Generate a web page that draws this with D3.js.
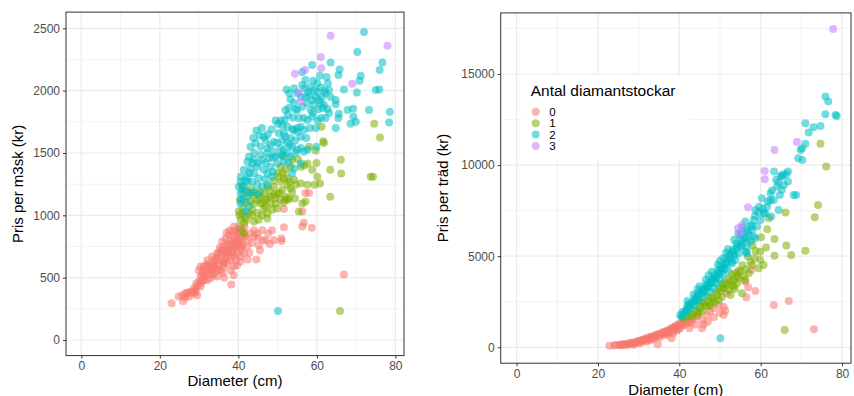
<!DOCTYPE html>
<html>
<head>
<meta charset="utf-8">
<script src="https://cdn.jsdelivr.net/npm/d3@7"></script>
<style>
  body { margin: 0; background: #fff; }
  svg { display: block; font-family: "Liberation Sans", Arial, Helvetica, sans-serif; }
</style>
</head>
<body>
<svg id="chart" width="854" height="396"></svg>
<script>
// Antal diamantstockar
const groups = ["0", "1", "2", "3"];
const groupColors = ["#F8766D", "#7CAE00", "#00BFC4", "#C77CFF"];

const xTicks = [0, 20, 40, 60, 80];
const xMinor = [10, 30, 50, 70];
const yTicksM3sk = [0, 500, 1000, 1500, 2000, 2500];
const yMinorM3sk = [250, 750, 1250, 1750, 2250];
const yTicksTrad = [0, 5000, 10000, 15000];
const yMinorTrad = [2500, 7500, 12500, 17500];

// [diameter, pris per m3sk]
const m3sk0 = [[23.0,295],[24.8,350],[25.7,360],[26.5,375],[25.9,310],[27.0,380],[27.8,390],[28.7,395],[29.5,360],[29.1,400],
  [28.2,375],[30.4,430],[29.5,430],[29.3,455],[30.4,455],[31.0,480],[31.4,510],[38.2,445],[42.4,645],[44.6,645],
  [45.5,720],[46.3,800],[47.6,855],[48.6,880],[51.0,815],[51.0,795],[51.6,905],[51.6,1050],[52.0,1125],[56.3,1030],
  [56.7,940],[56.3,910],[58.7,900],[57.1,1180],[58.0,1180],[66.9,525],[44.0,880],[44.8,855],[42.3,750],[40.6,670],
  [32.1,560],[32.9,590],[33.8,615],[34.6,640],[35.5,670],[36.3,695],[37.2,720],[38.0,750],[38.9,775],[39.7,800],
  [40.6,830],[41.4,855],[30.4,510],[31.2,590],[32.1,640],[33.3,670],[34.6,695],[35.5,720],[36.3,750],[37.2,775],
  [38.0,800],[38.9,830],[39.7,855],[35.5,560],[36.3,590],[37.2,615],[38.0,640],[38.9,670],[39.7,695],[40.6,720],
  [33.8,535],[34.6,510],[32.1,480],[32.9,495],[35.9,790],[36.7,815],[37.6,840],[38.4,870],[39.3,880],[40.1,910],
  [41.0,880],[38.9,910],[30.4,590],[29.9,560],[30.8,550],[35.0,600],[35.9,630],[34.2,575],[38.9,590],[39.7,600],
  [40.6,630],[38.0,560],[41.4,695],[42.3,800],[41.8,830],[43.1,855],[44.0,830],[46.1,880],[49.1,800],[45.2,760],
  [33.0,560],[34.0,650],[36.8,660],[37.5,700],[39.0,740],[40.0,760],[40.8,790],[36.0,540],[31.8,600],[37.8,880],
  [31.5,540],[32.5,610],[33.5,590],[34.5,660],[35.0,700],[36.0,720],[36.5,640],[37.0,700],[37.5,760],[38.5,720],
  [39.0,800],[39.5,760],[40.0,860],[40.3,800],[41.0,760],[41.6,900],[40.8,740],[37.9,680],[36.2,610],[34.8,560],
  [33.5,520],[32.6,535],[31.2,480],[30.8,520],[28.8,420],[27.5,350],[26.5,340],[29.0,380],[30.0,470],[34.0,600],
  [35.3,745],[37.0,860],[38.6,700],[39.4,640],[42.8,700],[43.5,780],[45.0,820],[47.0,800],[48.0,770],[36.4,500],[38.8,520]];

const m3sk1 = [[74.6,1735],[76.1,1625],[73.7,1310],[74.3,1310],[66.1,1445],[66.2,1335],[63.4,1365],[63.4,1150],[65.9,233],[61.6,1595],
  [61.8,1580],[61.2,1710],[59.7,1520],[59.9,1420],[57.6,1415],[58.8,1365],[58.0,1550],[60.1,1310],[60.8,1255],[59.4,1245],
  [57.6,1245],[55.9,1255],[55.9,1390],[56.3,1095],[57.1,1110],[55.4,1030],[51.6,1295],[50.8,1270],[52.5,1245],[53.3,1215],
  [53.7,1190],[51.2,1205],[49.9,1175],[49.1,1165],[48.2,1150],[47.4,1135],[46.9,1125],[48.2,1095],[49.5,1095],[50.8,1125],
  [52.0,1150],[52.9,1135],[49.9,1055],[48.6,1045],[47.4,1015],[46.5,1055],[45.7,1095],[44.8,1125],[44.0,1095],[43.1,1110],
  [42.7,1015],[43.5,1045],[41.8,990],[40.6,965],[41.0,1015],[40.1,1030],[40.6,895],[41.4,855],[44.0,950],[45.2,965],
  [47.4,975],[46.5,1175],[45.7,1190],[53.7,1445],[53.3,1390],[52.0,1365],[54.2,1285],[54.6,1245],[50.8,1390],[51.6,1470],
  [50.3,1310],[49.1,1230],[52.6,1125],[54.4,1135],[42.0,1100],[43.8,1160],[41.2,1060],[40.4,1120],
  [42.5,1180],[43.2,1210],[44.5,1180],[45.5,1140],[46.2,1100],[47.0,1070],[48.0,1200],[49.0,1280],[50.5,1180],[51.5,1100],
  [41.5,940],[42.0,960],[43.5,1000],[44.8,1020],[46.0,1000],[41.2,1180],[40.3,1000],[40.9,1240],[50.0,1340],[51.3,1340],
  [52.5,1300],[53.0,1270],[56.8,1400],[55.2,1450],[47.5,1230],[49.4,1140]];

const m3sk2 = [[72.0,2470],[70.3,2310],[76.7,2225],[76.0,2165],[63.5,2225],[65.8,2170],[65.5,2125],[71.2,2120],[70.9,2080],[62.5,2110],
  [58.8,2205],[56.3,2150],[62.8,2060],[66.9,2010],[70.2,1985],[75.0,2005],[75.9,2010],[73.3,1845],[78.6,1830],[78.4,1745],
  [69.9,1750],[68.6,1735],[69.3,1790],[69.2,1855],[67.8,1845],[64.8,1700],[65.5,1780],[65.6,1815],[64.8,1925],[64.8,1890],
  [63.1,1820],[62.7,1855],[62.2,1780],[61.0,1780],[59.7,1700],[59.9,1550],[57.6,1525],[50.1,233],
  [58.4,2030],[59.3,2005],[60.1,1990],[61.0,2025],[59.7,1950],[60.5,1925],[61.4,1950],[62.2,1980],[58.8,1925],[58.0,1965],
  [61.0,1900],[61.8,1885],[59.3,1885],[60.1,2060],[63.1,2005],[56.9,2020],[57.1,1950],
  [52.3,2010],[53.3,1930],[54.2,1900],[55.0,1845],[56.3,1870],[56.7,1780],[55.4,1780],[53.9,1785],[52.6,1805],[51.8,1765],
  [50.1,1735],[49.5,1760],[51.2,1720],[52.5,1710],[53.7,1690],[55.0,1700],[55.9,1710],[56.7,1685],[57.6,1765],[58.8,1790],
  [58.4,1845],[52.0,1845],[52.9,1860],[56.3,2045],[57.1,2085],[54.2,2020],[55.0,1980],
  [46.5,1630],[46.9,1605],[44.4,1580],[43.1,1550],[45.7,1550],[47.4,1540],[48.2,1565],[49.1,1590],[49.9,1580],[51.2,1605],
  [52.0,1630],[53.3,1620],[51.6,1660],[50.3,1660],[52.5,1580],[53.7,1550],[55.0,1525],[55.9,1540],[56.7,1510],[50.8,1540],
  [49.1,1510],[47.4,1500],[45.7,1485],[44.0,1500],[42.7,1470],[42.3,1430],[44.0,1445],[46.1,1445],[47.8,1460],[49.5,1470],
  [51.2,1485],[52.5,1500],[44.8,1390],[43.1,1375],[41.4,1365],[40.6,1310],[42.3,1310],[44.0,1335],[46.5,1365],[48.2,1390],
  [49.9,1415],[51.6,1430],[54.2,1375],[53.7,1335],[55.9,1415],[53.3,1470],[55.9,1630],[55.0,1670],[54.2,1685],
  [40.1,1230],[40.6,1175],[41.4,1230],[42.3,1270],[43.5,1270],[44.8,1245],[46.1,1230],[47.4,1245],[41.4,1125],[40.6,1095],
  [42.3,1150],[44.0,1190],[45.2,1165],[40.6,1270],[42.7,1070],[41.8,1030],[40.6,1125],[47.4,1335],[48.6,1310],
  [43.8,1620],[44.6,1680],[45.4,1640],[46.0,1700],[47.5,1650],[48.5,1690],[50.8,1760],[51.5,1520],[53.0,1560],[54.5,1600],
  [48.8,1460],[47.0,1420],[45.0,1420],[43.6,1420],[42.8,1340],[41.8,1280],[41.0,1210],[42.0,1200],[43.2,1180],[45.2,1300],
  [46.8,1290],[48.8,1350],[50.8,1480],[52.8,1420],[54.6,1500],[57.3,1620],[58.2,1700],[60.4,1850],[59.1,2080],[60.8,2120],
  [57.8,1990],[62.0,2000],[63.5,1950],[53.0,1980],[54.6,1850],[56.0,1950],[57.5,1900],[59.0,1820],[61.5,1860],[60.2,1760]];

const m3sk3 = [[63.5,2440],[78.0,2360],[61.0,2270],[57.0,2165],[61.1,2180],[54.4,2135],[69.0,2055],[55.4,1985],[55.9,1910]];

// [diameter, pris per träd]
const trad0 = [[22.8,90],[24.3,130],[25.1,145],[25.9,165],[26.7,185],[27.5,220],[28.4,255],[29.2,290],[30.0,365],[30.8,400],
  [31.6,475],[32.5,530],[33.3,585],[34.1,660],[34.9,715],[35.7,805],[36.6,880],[37.4,950],[38.2,1045],[39.0,1135],
  [39.8,1280],[39.4,950],[38.5,770],[36.9,675],[34.7,165],[38.1,495],[32.9,400],[27.1,110],[28.8,145],[30.4,220],
  [32.0,310],[33.6,440],[35.2,550],[36.9,770],[38.5,895],[40.2,1045],[41.1,1225],[41.9,1320],[43.1,1500],[44.3,1685],
  [45.6,1045],[45.6,1500],[46.8,1775],[47.6,1960],[48.4,2140],[49.7,2325],[50.9,2230],[50.9,1775],[51.3,2010],[51.7,2965],
  [56.2,3605],[56.9,3295],[56.5,2745],[58.7,3090],[57.7,4245],[63.2,2325],[66.9,2545],[73.1,990],[42.5,1045],[43.5,1590],
  [26.0,120],[29.0,200],[31.0,330],[33.0,520],[35.0,640],[37.0,820],[39.5,1100],[40.5,1180],[42.0,1400],[44.8,1900],
  [28.0,240],[29.6,300],[30.6,360],[31.2,430],[32.2,480],[33.0,560],[33.9,620],[34.6,700],[35.5,740],[36.2,830],
  [37.0,900],[37.8,1000],[38.6,1100],[39.2,1180],[40.0,1250],[40.8,1300],[38.0,900],[36.0,700],[34.0,520],[32.0,380],
  [30.2,280],[26.2,150],[25.5,110],[24.0,95],[27.8,170],[41.5,1450],[42.8,1350],[44.0,1250],[47.0,1400],[48.5,1650],
  [50.0,1900],[46.0,1250],[39.6,950],[37.4,800]];

const trad1 = [[74.7,11165],[76.1,9920],[74.1,7815],[73.3,7135],[66.1,7395],[62.0,7080],[61.6,6480],[60.1,6040],[63.4,5950],[66.3,5580],
  [71.0,5305],[67.5,5070],[63.4,5030],[61.3,5470],[59.9,5250],[58.7,5305],[59.9,4795],[60.7,4520],[59.5,4335],[57.9,4520],
  [57.1,4060],[56.2,3695],[55.4,2965],[53.4,3330],[52.6,2875],[65.9,950],[54.6,3790],[53.8,4060],
  [41.1,1590],[41.9,1685],[43.1,1775],[44.3,1960],[45.2,2140],[46.4,2325],[47.2,2505],[48.4,2690],[49.3,2875],[50.1,3055],
  [50.9,3240],[51.7,3420],[52.5,3605],[53.4,3695],[54.2,3880],[55.0,4155],[50.5,2780],[49.7,2600],[48.0,2415],[46.8,2230],
  [45.6,1960],[52.1,3150],[52.9,3420],[54.2,3515],
  [42.0,1800],[43.6,2000],[45.0,2250],[46.0,2450],[47.8,2700],[49.0,3000],[50.5,3250],[51.4,3550],[52.2,3800],[53.0,4000],
  [54.5,4200],[55.5,4500],[56.4,4300],[57.5,4700],[58.5,4900],[48.8,2500],[47.5,2300],[44.6,1800],[40.6,1650],[43.0,1700],
  [50.8,3500],[53.6,3200],[55.8,3900],[56.8,5000],[58.0,5600],[49.8,3300],[47.0,2800],[45.4,2500]];

const trad2 = [[75.9,13760],[76.6,13490],[75.9,12790],[78.4,12755],[78.7,12700],[71.0,12300],[73.0,12080],[74.7,12150],[71.8,11785],[71.0,11165],
  [70.2,10925],[69.8,10835],[69.2,10375],[70.2,10285],[66.7,9645],[66.3,9500],[64.9,9405],[63.3,9645],[64.4,9040],[65.7,8910],
  [66.7,9095],[65.2,8640],[68.1,8365],[68.7,8365],[64.7,8365],[62.4,8455],[62.4,8090],[61.6,7720],[60.3,8180],[61.1,7355],
  [58.7,7540],[64.4,7540],[62.6,7175],[58.3,6990],[59.1,6625],[57.9,6440],[57.1,6165],[56.3,5985],[58.7,5985],[55.1,5890],
  [54.2,5525],[53.0,5250],[52.1,4980],[51.3,4610],[50.5,4335],[49.7,4060],[48.4,3790],[47.6,3515],[46.4,3240],[45.6,2965],
  [44.3,2780],[43.5,2505],[42.3,2230],[41.5,1960],[40.2,1775],[40.6,1685],[50.1,495],
  [42.8,2330],[44.0,2600],[44.8,2875],[46.1,3055],[46.9,3330],[47.7,3515],[48.9,3790],[49.7,4060],[50.5,4335],[51.7,4610],
  [52.5,4885],[53.4,5160],[54.2,5435],[55.4,5710],[56.7,5800],[54.6,5160],[53.8,4795],[53.0,4610],[52.0,4245],[50.8,3970],
  [50.0,3700],[49.2,3515],[48.4,3240],[47.5,3055],[46.0,2780],[44.8,2600],[43.9,2325],[42.7,2140],[41.9,1960],[55.4,5525],
  [56.3,5250],[56.6,5160],[56.6,5435],[57.5,5800],[58.3,6075],[55.1,6165],[56.3,6440],[57.5,6625],[60.0,6990],[60.8,7355],
  [59.6,7720],[63.2,8090],[64.0,8820],[65.2,9370],
  [41.0,1800],[41.8,2100],[42.5,2400],[43.2,2450],[43.8,2700],[44.5,2950],[45.2,3000],[46.0,3200],[46.5,3400],[47.2,3600],
  [48.0,3700],[48.6,3950],[49.4,4200],[50.0,4450],[51.0,4500],[51.6,4850],[52.4,5100],[53.2,5350],[54.0,5700],[55.0,5600],
  [55.8,6000],[56.8,6300],[57.8,6700],[58.6,7200],[59.5,7400],[60.5,7600],[61.8,8000],[62.8,8600],[63.8,9200],[65.5,9500],
  [40.8,1950],[42.0,2300],[44.2,2600],[45.5,3100],[47.0,3300],[48.2,3550],[49.0,3800],[50.2,4100],[51.2,4300],[52.8,4700],[53.6,5050],
  [42.0,2550],[43.5,2900],[45.0,3350],[46.5,3700],[48.0,4150],[49.5,4550],[50.8,4900],[52.0,5400],[53.5,5900],[54.5,6250],
  [55.6,6550],[56.2,6900],[44.5,3200],[47.2,3950],[50.0,4750],[51.5,5200]];

const trad3 = [[77.8,17475],[63.4,10835],[68.9,11270],[61.0,9680],[61.0,9225],[56.9,7685],[55.4,6715],[54.4,6530],[55.0,6260]];

const svg = d3.select("#chart");

function drawPanel(cfg) {
  const x = d3.scaleLinear().domain([-3.9, 82.2]).range(cfg.xRange);
  const y = d3.scaleLinear().domain(cfg.yDomain).range(cfg.yRange);
  const g = svg.append("g");
  const [x0, x1] = cfg.xRange, [y1, y0] = cfg.yRange;

  g.append("rect").attr("x", x0).attr("y", y0).attr("width", x1 - x0).attr("height", y1 - y0).attr("fill", "#fff");

  // minor then major grid
  g.selectAll(".vminor").data(xMinor).enter().append("line")
    .attr("x1", d => x(d)).attr("x2", d => x(d)).attr("y1", y0).attr("y2", y1)
    .attr("stroke", "#ebebeb").attr("stroke-width", 0.6);
  g.selectAll(".hminor").data(cfg.yMinor).enter().append("line")
    .attr("y1", d => y(d)).attr("y2", d => y(d)).attr("x1", x0).attr("x2", x1)
    .attr("stroke", "#ebebeb").attr("stroke-width", 0.6);
  g.selectAll(".vmajor").data(xTicks).enter().append("line")
    .attr("x1", d => x(d)).attr("x2", d => x(d)).attr("y1", y0).attr("y2", y1)
    .attr("stroke", "#ebebeb").attr("stroke-width", 1.2);
  g.selectAll(".hmajor").data(cfg.yTicks).enter().append("line")
    .attr("y1", d => y(d)).attr("y2", d => y(d)).attr("x1", x0).attr("x2", x1)
    .attr("stroke", "#ebebeb").attr("stroke-width", 1.2);

  if (cfg.legend) drawLegend(cfg.legend);

  cfg.series.forEach((pts, i) => {
    svg.append("g").selectAll("circle")
      .data(pts)
      .enter().append("circle")
      .attr("cx", d => x(d[0]))
      .attr("cy", d => y(d[1]))
      .attr("r", 4)
      .attr("fill", groupColors[i])
      .attr("fill-opacity", 0.55);
  });

  svg.append("rect").attr("x", x0).attr("y", y0).attr("width", x1 - x0).attr("height", y1 - y0)
    .attr("fill", "none").attr("stroke", "#333").attr("stroke-width", 1);

  const ax = svg.append("g").attr("transform", "translate(0," + y1 + ")")
    .call(d3.axisBottom(x).tickValues(xTicks).tickSize(3).tickPadding(3));
  const ay = svg.append("g").attr("transform", "translate(" + x0 + ",0)")
    .call(d3.axisLeft(y).tickValues(cfg.yTicks).tickSize(3).tickPadding(3).tickFormat(d3.format("d")));
  [ax, ay].forEach(a => {
    a.select(".domain").remove();
    a.selectAll("line").attr("stroke", "#333");
    a.selectAll("text").attr("fill", "#4d4d4d").style("font-size", "12px")
      .style("font-family", "'Liberation Sans', Arial, sans-serif");
  });

  svg.append("text").attr("x", (x0 + x1) / 2).attr("y", cfg.xTitleY)
    .attr("text-anchor", "middle").style("font-size", "15px").attr("fill", "#000")
    .text("Diameter (cm)");
  svg.append("text").attr("transform", "translate(" + cfg.yTitleX + "," + (y0 + y1) / 2 + ") rotate(-90)")
    .attr("text-anchor", "middle").style("font-size", "15px").attr("fill", "#000")
    .text(cfg.yTitle);
}

function drawLegend(pos) {
  const lg = svg.append("g").attr("transform", "translate(" + pos[0] + "," + pos[1] + ")");
  lg.append("rect").attr("x", 0).attr("y", 0).attr("width", 168).attr("height", 85).attr("fill", "#fff");
  lg.append("text").attr("x", 9).attr("y", 20.5).style("font-size", "15.5px").attr("fill", "#000")
    .text("Antal diamantstockar");
  const items = lg.selectAll(".item").data(groups).enter().append("g")
    .attr("transform", (d, i) => "translate(14," + (36.7 + i * 11.45) + ")");
  items.append("circle").attr("r", 4).attr("fill", (d, i) => groupColors[i]).attr("fill-opacity", 0.55);
  items.append("text").attr("x", 13.5).attr("y", 4).style("font-size", "11.5px").attr("fill", "#000")
    .text(d => d);
}

drawPanel({
  xRange: [66, 404], yRange: [355.6, 12.1], yDomain: [-125, 2630],
  yTicks: yTicksM3sk, yMinor: yMinorM3sk, series: [m3sk0, m3sk1, m3sk2, m3sk3],
  yTitle: "Pris per m3sk (kr)", xTitleY: 386, yTitleX: 23
});

drawPanel({
  xRange: [500.7, 851], yRange: [363.2, 12.9], yDomain: [-874, 18354],
  yTicks: yTicksTrad, yMinor: yMinorTrad, series: [trad0, trad1, trad2, trad3],
  yTitle: "Pris per träd (kr)", xTitleY: 395, yTitleX: 448, legend: [521.7, 75]
});
</script>
</body>
</html>
